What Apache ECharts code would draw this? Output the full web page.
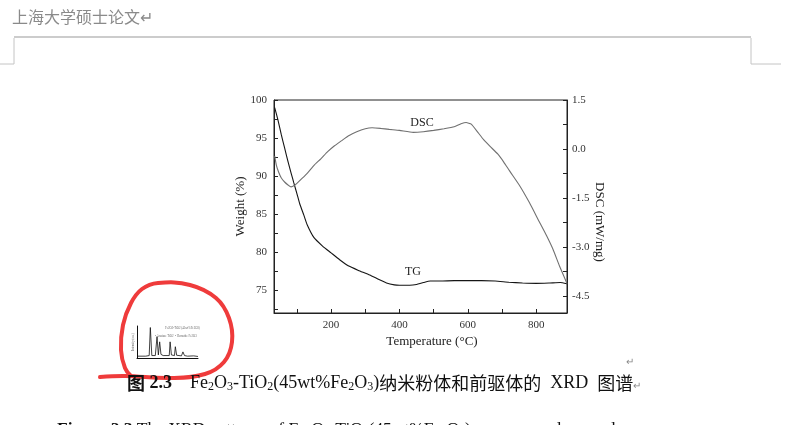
<!DOCTYPE html>
<html>
<head>
<meta charset="utf-8">
<script src="https://cdn.jsdelivr.net/npm/echarts@6/dist/echarts.min.js"></script>
<style>
  html, body { margin: 0; padding: 0; background: #fff; }
  #chart { width: 800px; height: 425px; }
</style>
</head>
<body>
<div id="chart"></div>
<script>
// --- TG curve (left axis, weight %) ---
const tgTemp = [35, 45, 54, 64, 74, 83, 91, 100, 108, 120, 130, 150, 175, 200, 225, 250, 280, 313, 340, 362, 385, 400, 430, 450, 470, 490, 520, 560, 600, 640, 680, 720, 760, 800, 840, 870, 890];
const tgWeight = [99.0, 97.3, 95.5, 93.7, 91.9, 90.4, 89.1, 87.7, 86.4, 84.9, 83.6, 81.9, 80.8, 79.9, 79.0, 78.2, 77.6, 77.0, 76.4, 75.95, 75.7, 75.65, 75.65, 75.75, 76.0, 76.2, 76.2, 76.25, 76.25, 76.25, 76.2, 76.05, 75.95, 75.9, 75.95, 76.0, 75.85];

// --- DSC curve (right axis, mW/mg) ---
const dscTemp = [35, 40, 47, 54, 64, 74, 83, 92, 100, 115, 132, 150, 170, 190, 210, 230, 250, 275, 300, 320, 345, 370, 400, 440, 470, 500, 530, 560, 580, 595, 610, 630, 645, 665, 688, 705, 722, 752, 780, 810, 830, 849, 868, 890];
const dscValue = [-0.21, -0.50, -0.72, -0.88, -1.01, -1.10, -1.16, -1.12, -1.05, -0.90, -0.72, -0.50, -0.30, -0.08, 0.10, 0.25, 0.40, 0.53, 0.62, 0.65, 0.63, 0.60, 0.57, 0.51, 0.53, 0.57, 0.62, 0.68, 0.77, 0.81, 0.76, 0.50, 0.30, 0.08, -0.16, -0.40, -0.67, -1.13, -1.64, -2.25, -2.65, -3.07, -3.58, -4.12];

// ticks / labels
const tempLabels = [200, 400, 600, 800];
const tempTicks = [100, 200, 300, 400, 500, 600, 700, 800];
const weightLabels = [75, 80, 85, 90, 95, 100];
const weightTicks = [72.5, 75, 77.5, 80, 82.5, 85, 87.5, 90, 92.5, 95, 97.5, 100];
const dscLabels = [1.5, 0, -1.5, -3, -4.5];
const dscTicks = [1.5, 0.75, 0, -0.75, -1.5, -2.25, -3, -3.75, -4.5];

// --- thumbnail XRD pattern inside red circle ---
const xrdAngle = [10, 20, 24, 25.3, 27, 31, 33, 34.5, 36, 37.5, 40, 47, 48, 49.5, 53, 54, 55.5, 61, 62.7, 64.5, 68, 70, 75, 80];
const xrdCount = [6, 6, 8, 100, 8, 8, 70, 10, 53, 12, 8, 8, 53, 10, 8, 37, 9, 7, 20, 8, 6, 10, 7, 5];

const serif = "Liberation Serif";
const cjk = "Noto Sans CJK SC";

const chart = echarts.init(document.getElementById("chart"));

const option = {
  animation: false,
  backgroundColor: "#fff",
  grid: [
    { left: 274, top: 100, width: 293, height: 213, show: true, borderColor: "#222", borderWidth: 1 },
    { left: 137, top: 326, width: 61, height: 32 }
  ],
  xAxis: [
    {
      type: "value",
      gridIndex: 0,
      min: 33,
      max: 890,
      axisLine: { show: true, onZero: false, lineStyle: { color: "#222", width: 1 } },
      axisTick: { show: true, inside: true, length: 4, customValues: tempTicks, lineStyle: { color: "#222" } },
      axisLabel: { customValues: tempLabels, color: "#333", fontFamily: serif, fontSize: 11, margin: 7 },
      splitLine: { show: false }
    },
    {
      type: "value",
      gridIndex: 1,
      min: 10,
      max: 80,
      axisLine: { onZero: false, lineStyle: { color: "#111", width: 1 } },
      axisTick: { show: false },
      axisLabel: { show: false },
      splitLine: { show: false }
    }
  ],
  yAxis: [
    {
      type: "value",
      gridIndex: 0,
      min: 72,
      max: 100,
      name: "Weight (%)",
      nameLocation: "middle",
      nameGap: 24,
      nameTextStyle: { fontFamily: serif, fontSize: 13, color: "#222" },
      axisLine: { show: true, onZero: false, lineStyle: { color: "#222", width: 1 } },
      axisTick: { show: true, inside: true, length: 4, customValues: weightTicks, lineStyle: { color: "#222" } },
      axisLabel: { customValues: weightLabels, color: "#333", fontFamily: serif, fontSize: 11, margin: 7 },
      splitLine: { show: false }
    },
    {
      type: "value",
      gridIndex: 0,
      position: "right",
      min: -5.02,
      max: 1.5,
      axisLine: { show: true, onZero: false, lineStyle: { color: "#222", width: 1 } },
      axisTick: { show: true, inside: true, length: 4, customValues: dscTicks, lineStyle: { color: "#222" } },
      axisLabel: {
        customValues: dscLabels,
        color: "#333",
        fontFamily: serif,
        fontSize: 11,
        margin: 5,
        formatter: function (v) { return v.toFixed(1); }
      },
      splitLine: { show: false }
    },
    {
      type: "value",
      gridIndex: 1,
      min: 0,
      max: 105,
      axisLine: { show: true, lineStyle: { color: "#111", width: 1 } },
      axisTick: { show: false },
      axisLabel: { show: false },
      splitLine: { show: false }
    }
  ],
  series: [
    {
      name: "TG",
      type: "line",
      xAxisIndex: 0,
      yAxisIndex: 0,
      data: tgTemp.map((t, i) => [t, tgWeight[i]]),
      smooth: 0.15,
      symbol: "none",
      lineStyle: { color: "#151515", width: 1.1 }
    },
    {
      name: "DSC",
      type: "line",
      xAxisIndex: 0,
      yAxisIndex: 1,
      data: dscTemp.map((t, i) => [t, dscValue[i]]),
      smooth: 0.15,
      symbol: "none",
      lineStyle: { color: "#707070", width: 1.1 }
    },
    {
      name: "XRD",
      type: "line",
      xAxisIndex: 1,
      yAxisIndex: 2,
      data: xrdAngle.map((a, i) => [a, xrdCount[i]]),
      symbol: "none",
      lineStyle: { color: "#111", width: 0.8 }
    }
  ],
  graphic: [
    // page header
    { type: "text", left: 12, top: 9, style: { text: "上海大学硕士论文↵", fontFamily: cjk, fontSize: 16, fill: "#8a8a8a" } },
    { type: "line", shape: { x1: 14, y1: 37, x2: 751, y2: 37 }, style: { stroke: "#999", lineWidth: 1.2 } },
    { type: "polyline", shape: { points: [[0, 64], [14, 64], [14, 38]] }, style: { stroke: "#c4c4c4", lineWidth: 1, fill: null } },
    { type: "polyline", shape: { points: [[751, 38], [751, 64], [781, 64]] }, style: { stroke: "#c4c4c4", lineWidth: 1, fill: null } },

    // curve labels
    { type: "text", x: 422, y: 123, style: { text: "DSC", fontFamily: serif, fontSize: 12, fill: "#222", align: "center", verticalAlign: "middle" } },
    { type: "text", x: 413, y: 272, style: { text: "TG", fontFamily: serif, fontSize: 12, fill: "#222", align: "center", verticalAlign: "middle" } },

    // axis titles
    { type: "text", x: 599, y: 222, rotation: -Math.PI / 2, style: { text: "DSC (mW/mg)", fontFamily: serif, fontSize: 13, fill: "#222", align: "center", verticalAlign: "middle" } },
    { type: "text", x: 432, y: 342, style: { text: "Temperature (°C)", fontFamily: serif, fontSize: 13, fill: "#222", align: "center", verticalAlign: "middle" } },

    // thumbnail tiny texts
    { type: "text", x: 165, y: 327, style: { text: "Fe2O3-TiO2 (45wt%Fe2O3)", fontFamily: serif, fontSize: 3, fill: "#666" } },
    { type: "text", x: 155, y: 335, style: { text: "• Anatase TiO2  • Hematite Fe2O3", fontFamily: serif, fontSize: 3, fill: "#666" } },
    { type: "text", x: 133, y: 342, rotation: Math.PI / 2, style: { text: "Intensity (a.u.)", fontFamily: serif, fontSize: 3, fill: "#666", align: "center", verticalAlign: "middle" } },

    // hand-drawn red circle
    {
      type: "polyline",
      shape: {
        points: [[100, 377], [125, 376], [170, 378], [205, 374], [224, 362], [232, 342], [229, 318], [216, 298], [190, 285], [158, 283], [142, 289], [131, 303], [123, 325], [121, 350], [125, 368], [131, 376]],
        smooth: 0.4
      },
      style: { stroke: "#ef3b3b", lineWidth: 4, fill: null, lineCap: "round", lineJoin: "round" }
    },
    { type: "text", x: 630, y: 362, style: { text: "↵", fontFamily: serif, fontSize: 10, fill: "#888", align: "center", verticalAlign: "middle" } },

    // figure caption
    {
      type: "text",
      left: 127,
      top: 374,
      style: {
        text: "{cb|图}{b| 2.3}    {t|Fe}{s|2}{t|O}{s|3}{t|-TiO}{s|2}{t|(45wt%Fe}{s|2}{t|O}{s|3}{t|)}{c|纳米粉体和前驱体的}{t|  XRD  }{c|图谱}{m|↵}",
        fontFamily: serif,
        fontSize: 18,
        fill: "#111",
        rich: {
          cb: { fontFamily: cjk, fontSize: 18, fontWeight: "bold", fill: "#111" },
          b: { fontFamily: serif, fontSize: 18, fontWeight: "bold", fill: "#111" },
          t: { fontFamily: serif, fontSize: 18, fill: "#111" },
          c: { fontFamily: cjk, fontSize: 18, fill: "#111" },
          s: { fontFamily: serif, fontSize: 12, fill: "#111", padding: [8, 0, 0, 0] },
          m: { fontFamily: serif, fontSize: 10, fill: "#888", padding: [6, 0, 0, 0] }
        }
      }
    },
    {
      type: "text",
      left: 57,
      top: 420,
      style: {
        text: "{b|Figure 2.3} {t|The XRD patterns of Fe}{s|2}{t|O}{s|3}{t|-TiO}{s|2}{t|(45wt%Fe}{s|2}{t|O}{s|3}{t|)  nano  powders  and  precursor}",
        fontFamily: serif,
        fontSize: 17,
        fill: "#111",
        rich: {
          b: { fontFamily: serif, fontSize: 17.5, fontWeight: "bold", fill: "#111" },
          t: { fontFamily: serif, fontSize: 17.5, fill: "#111" },
          s: { fontFamily: serif, fontSize: 11, fill: "#111", padding: [8, 0, 0, 0] }
        }
      }
    }
  ]
};

chart.setOption(option);
window.addEventListener("resize", function () {
  chart.resize();
});
</script>
</body>
</html>
